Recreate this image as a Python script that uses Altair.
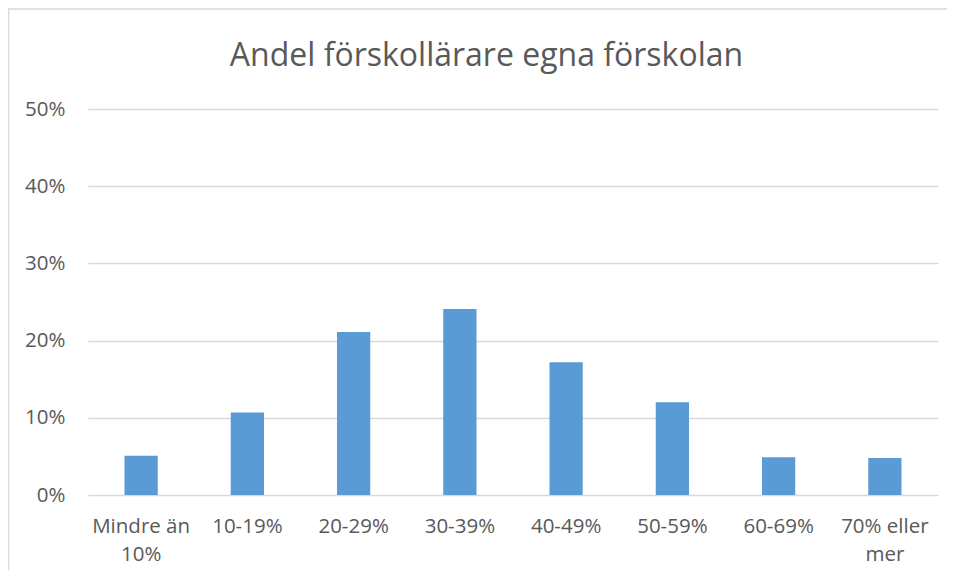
import altair as alt
import pandas as pd

categories = ["Mindre än 10%", "10-19%", "20-29%", "30-39%", "40-49%", "50-59%", "60-69%", "70% eller mer"]
values = [0.051, 0.107, 0.211, 0.241, 0.172, 0.120, 0.049, 0.048]
y_ticks = [0, 0.1, 0.2, 0.3, 0.4, 0.5]
title_text = "Andel förskollärare egna förskolan"

df = pd.DataFrame({"kategori": categories, "andel": values})
df_title = pd.DataFrame({"t": [title_text]})

W, H = 850, 386
FONT = "Open Sans"
TXT = "#595959"
GRID = "#d9d9d9"
LABEL_SIZE = 20.5

bars = alt.Chart(df).mark_bar(color="#5B9BD5").encode(
    x=alt.X(
        "kategori:N",
        sort=categories,
        scale=alt.Scale(paddingInner=0.687, paddingOuter=0.3435),
        axis=alt.Axis(
            title=None,
            labelAngle=0,
            domain=False,
            ticks=False,
            grid=False,
            labelPadding=21,
            labelFont=FONT,
            labelFontSize=LABEL_SIZE,
            labelColor=TXT,
            labelLineHeight=28,
            labelBaseline="top",
            labelExpr="datum.label == 'Mindre än 10%' ? ['Mindre än', '10%'] : datum.label == '70% eller mer' ? ['70% eller', 'mer'] : datum.label",
        ),
    ),
    y=alt.Y(
        "andel:Q",
        scale=alt.Scale(domain=[0, 0.5], nice=False),
        axis=alt.Axis(
            title=None,
            values=y_ticks,
            format=".0%",
            domain=False,
            ticks=False,
            labelPadding=23,
            labelFont=FONT,
            labelFontSize=LABEL_SIZE,
            labelColor=TXT,
            grid=True,
            gridColor=GRID,
            gridWidth=1.3,
        ),
    ),
)

title = alt.Chart(df_title).mark_text(
    font=FONT, fontSize=32, color=TXT, align="center", baseline="alphabetic"
).encode(text="t:N", x=alt.value(398.5), y=alt.value(-43))

frame = alt.Chart(df_title).mark_rect(
    fill="transparent", stroke=GRID, strokeWidth=1.5
).encode(
    x=alt.value(-79.5), x2=alt.value(W + 40), y=alt.value(-100), y2=alt.value(H + 120)
)

chart = (
    alt.layer(frame, title, bars)
    .properties(
        width=W,
        height=H,
        autosize=alt.AutoSizeParams(type="none"),
        padding={"left": 80, "top": 101, "right": 9, "bottom": 75},
    )
    .configure(background="white", view=alt.ViewConfig(strokeWidth=0, stroke="transparent"))
)

chart.save("out.html", embed_options={"renderer": "svg", "actions": False})
